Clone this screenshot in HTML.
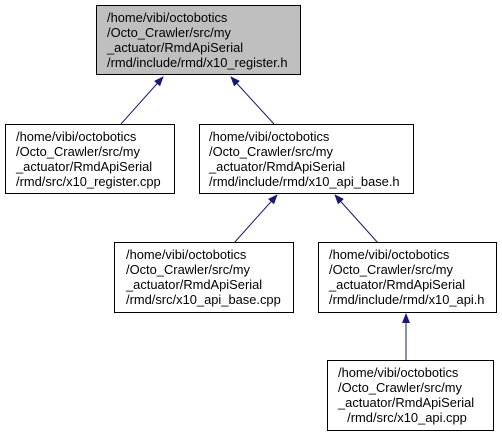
<!DOCTYPE html>
<html><head><style>body{margin:0;background:#fff}svg{display:block}text{font-family:"Liberation Sans",Arial,sans-serif;font-size:12.9px;fill:#000}</style></head><body>
<svg width="502" height="437" viewBox="0 0 502 437">
<defs><marker id="a" markerWidth="10" markerHeight="10" refX="9" refY="5" orient="auto" markerUnits="userSpaceOnUse"><path d="M0,1 L10,5 L0,9 z" fill="#191970"/></marker></defs>
<g stroke="#191970" stroke-width="1" fill="none">
<line x1="121" y1="124" x2="163" y2="77" marker-end="url(#a)"/>
<line x1="274" y1="124" x2="231" y2="77" marker-end="url(#a)"/>
<line x1="234" y1="243" x2="277" y2="195" marker-end="url(#a)"/>
<line x1="378" y1="243" x2="335" y2="195" marker-end="url(#a)"/>
<line x1="406" y1="361" x2="406" y2="314" marker-end="url(#a)"/>
</g>
<g stroke="#000" stroke-width="1">
<rect x="96.5" y="5.5" width="204" height="69" fill="#bfbfbf"/>
<rect x="5.5" y="124.5" width="169" height="69" fill="#fff"/>
<rect x="199.5" y="124.5" width="214" height="69" fill="#fff"/>
<rect x="114.5" y="242.5" width="179" height="70" fill="#fff"/>
<rect x="318.5" y="242.5" width="178" height="70" fill="#fff"/>
<rect x="327.5" y="360.5" width="166" height="70" fill="#fff"/>
</g>
<text x="107" y="22">/home/vibi/octobotics</text><text x="107" y="37">/Octo_Crawler/src/my</text><text x="107" y="52">_actuator/RmdApiSerial</text><text x="107" y="67">/rmd/include/rmd/x10_register.h</text>
<text x="16" y="141">/home/vibi/octobotics</text><text x="16" y="156">/Octo_Crawler/src/my</text><text x="16" y="171">_actuator/RmdApiSerial</text><text x="16" y="186">/rmd/src/x10_register.cpp</text>
<text x="209" y="141">/home/vibi/octobotics</text><text x="209" y="156">/Octo_Crawler/src/my</text><text x="209" y="171">_actuator/RmdApiSerial</text><text x="209" y="186">/rmd/include/rmd/x10_api_base.h</text>
<text x="126" y="259">/home/vibi/octobotics</text><text x="126" y="274">/Octo_Crawler/src/my</text><text x="126" y="289">_actuator/RmdApiSerial</text><text x="126" y="304">/rmd/src/x10_api_base.cpp</text>
<text x="329" y="259">/home/vibi/octobotics</text><text x="329" y="274">/Octo_Crawler/src/my</text><text x="329" y="289">_actuator/RmdApiSerial</text><text x="329" y="304">/rmd/include/rmd/x10_api.h</text>
<text x="338" y="377">/home/vibi/octobotics</text><text x="338" y="392">/Octo_Crawler/src/my</text><text x="338" y="407">_actuator/RmdApiSerial</text><text x="407" y="422" text-anchor="middle">/rmd/src/x10_api.cpp</text>
</svg>
</body></html>
